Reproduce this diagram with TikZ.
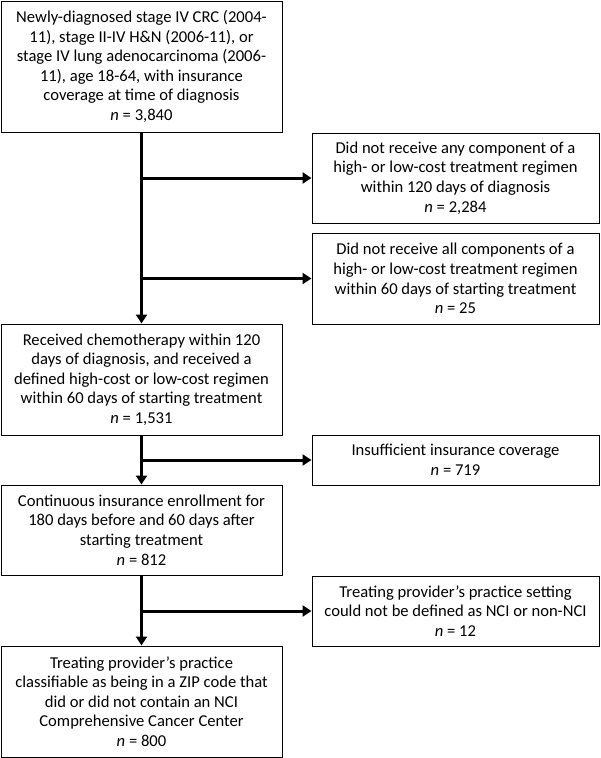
\documentclass[tikz,border=0pt]{standalone}
\usepackage{fontspec}
\setmainfont{Carlito}
\usetikzlibrary{positioning,arrows.meta}

\newcommand{\ncount}[1]{\textit{n} = #1}

\tikzset{
  box/.style={draw, line width=1pt, align=center, inner sep=0pt,
    font=\fontsize{16.6}{19.6}\selectfont},
  leftbox/.style={box, minimum width=281pt},
  rightbox/.style={box, minimum width=287pt},
  flow/.style={line width=3pt, -{Triangle[length=9pt,width=11pt]}},
}

\begin{document}
\begin{tikzpicture}[x=1pt,y=1pt]
\useasboundingbox (0,0) rectangle (600,-758);

% main column
\node at (141.5,-66.5) [leftbox, minimum height=131pt] (start) {Newly-diagnosed stage IV CRC (2004-\\11), stage II-IV H\&N (2006-11), or\\stage IV lung adenocarcinoma (2006-\\11), age 18-64, with insurance\\coverage at time of diagnosis\\\ncount{3,840}};
\node at (141.5,-379.5) [leftbox, minimum height=111pt] (chemo) {Received chemotherapy within 120\\days of diagnosis, and received a\\defined high-cost or low-cost regimen\\within 60 days of starting treatment\\\ncount{1,531}};
\node at (141.5,-530) [leftbox, minimum height=90pt] (enroll) {Continuous insurance enrollment for\\180 days before and 60 days after\\starting treatment\\\ncount{812}};
\node at (141.5,-701.5) [leftbox, minimum height=111pt] (final) {Treating provider’s practice\\classifiable as being in a ZIP code that\\did or did not contain an NCI\\Comprehensive Cancer Center\\\ncount{800}};

% exclusions
\node at (455.5,-178) [rightbox, minimum height=90pt] (excl1) {Did not receive any component of a\\high- or low-cost treatment regimen\\within 120 days of diagnosis\\\ncount{2,284}};
\node at (455.5,-278.5) [rightbox, minimum height=91pt] (excl2) {Did not receive all components of a\\high- or low-cost treatment regimen\\within 60 days of starting treatment\\\ncount{25}};
\node at (455.5,-460) [rightbox, minimum height=50pt] (excl3) {Insufficient insurance coverage\\\ncount{719}};
\node at (455.5,-611) [rightbox, minimum height=70pt] (excl4) {Treating provider’s practice setting\\could not be defined as NCI or non-NCI\\\ncount{12}};

% arrows
\draw[flow] (start.south) -- (chemo.north);
\draw[flow] (start.south |- excl1.west) -- (excl1.west);
\draw[flow] (start.south |- excl2.west) -- (excl2.west);
\draw[flow] (chemo.south) -- (enroll.north);
\draw[flow] (chemo.south |- excl3.west) -- (excl3.west);
\draw[flow] (enroll.south) -- (final.north);
\draw[flow] (enroll.south |- excl4.west) -- (excl4.west);

\end{tikzpicture}
\end{document}
